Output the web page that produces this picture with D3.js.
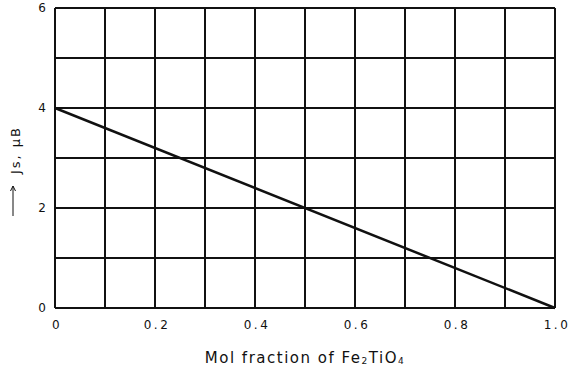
<!DOCTYPE html>
<html>
<head>
<meta charset="utf-8">
<script src="https://cdn.jsdelivr.net/npm/d3@7"></script>
<style>
  body { margin: 0; background: #fff; }
  svg { display: block; }
  text { font-family: "DejaVu Sans", sans-serif; fill: #111; }
</style>
</head>
<body>
<div id="chart"></div>
<script>
// mol fraction vs Js (μB)
const molFraction = [0, 1.0];
const jsValues = [4, 0];
const xTickLabels = ["0", "0.2", "0.4", "0.6", "0.8", "1.0"];
const yTickLabels = ["0", "2", "4", "6"];
const xGrid = [0, 0.1, 0.2, 0.3, 0.4, 0.5, 0.6, 0.7, 0.8, 0.9, 1.0];
const yGrid = [0, 1, 2, 3, 4, 5, 6];

const W = 571, H = 370;
const margin = { left: 55, right: 16, top: 8, bottom: 62 };

const svg = d3.select("#chart").append("svg")
    .attr("width", W)
    .attr("height", H);

const x = d3.scaleLinear().domain([0, 1]).range([margin.left, W - margin.right]);
const y = d3.scaleLinear().domain([0, 6]).range([H - margin.bottom, margin.top]);

// grid
svg.append("g").selectAll("line")
    .data(xGrid)
    .join("line")
        .attr("x1", d => x(d)).attr("x2", d => x(d))
        .attr("y1", y(0)).attr("y2", y(6))
        .attr("stroke", "#111")
        .attr("stroke-width", 2);

svg.append("g").selectAll("line")
    .data(yGrid)
    .join("line")
        .attr("x1", x(0)).attr("x2", x(1))
        .attr("y1", d => y(d)).attr("y2", d => y(d))
        .attr("stroke", "#111")
        .attr("stroke-width", 2);

// tick labels
svg.append("g").selectAll("text")
    .data(xTickLabels)
    .join("text")
        .attr("x", d => x(+d) + 2)
        .attr("y", y(0) + 21)
        .attr("text-anchor", "middle")
        .attr("font-size", 12)
        .attr("letter-spacing", 2.5)
        .text(d => d);

svg.append("g").selectAll("text")
    .data(yTickLabels)
    .join("text")
        .attr("x", x(0) - 9)
        .attr("y", d => y(+d) + 4)
        .attr("text-anchor", "end")
        .attr("font-size", 12)
        .text(d => d);

// line
svg.append("path")
    .datum(molFraction.map((m, i) => [m, jsValues[i]]))
    .attr("fill", "none")
    .attr("stroke", "#111")
    .attr("stroke-width", 2.5)
    .attr("d", d3.line().x(d => x(d[0])).y(d => y(d[1])));

// x axis title
const xt = svg.append("text")
    .attr("x", (x(0) + x(1)) / 2)
    .attr("y", 363)
    .attr("text-anchor", "middle")
    .attr("font-size", 15)
    .attr("letter-spacing", 1.5);
xt.append("tspan").text("Mol fraction of Fe");
xt.append("tspan").attr("font-size", 9).attr("dy", 1).text("2");
xt.append("tspan").attr("dy", -1).text("TiO");
xt.append("tspan").attr("font-size", 9).attr("dy", 1).text("4");

// y axis title: arrow + text
svg.append("path")
    .attr("d", "M13,216 V186 M10.5,191 L13,186 L15.5,191")
    .attr("fill", "none")
    .attr("stroke", "#111")
    .attr("stroke-width", 1);
svg.append("text")
    .attr("transform", "translate(20,150) rotate(-90)")
    .attr("text-anchor", "middle")
    .attr("font-size", 13)
    .attr("letter-spacing", 2)
    .text("Js, \u03BCB");
</script>
</body>
</html>
